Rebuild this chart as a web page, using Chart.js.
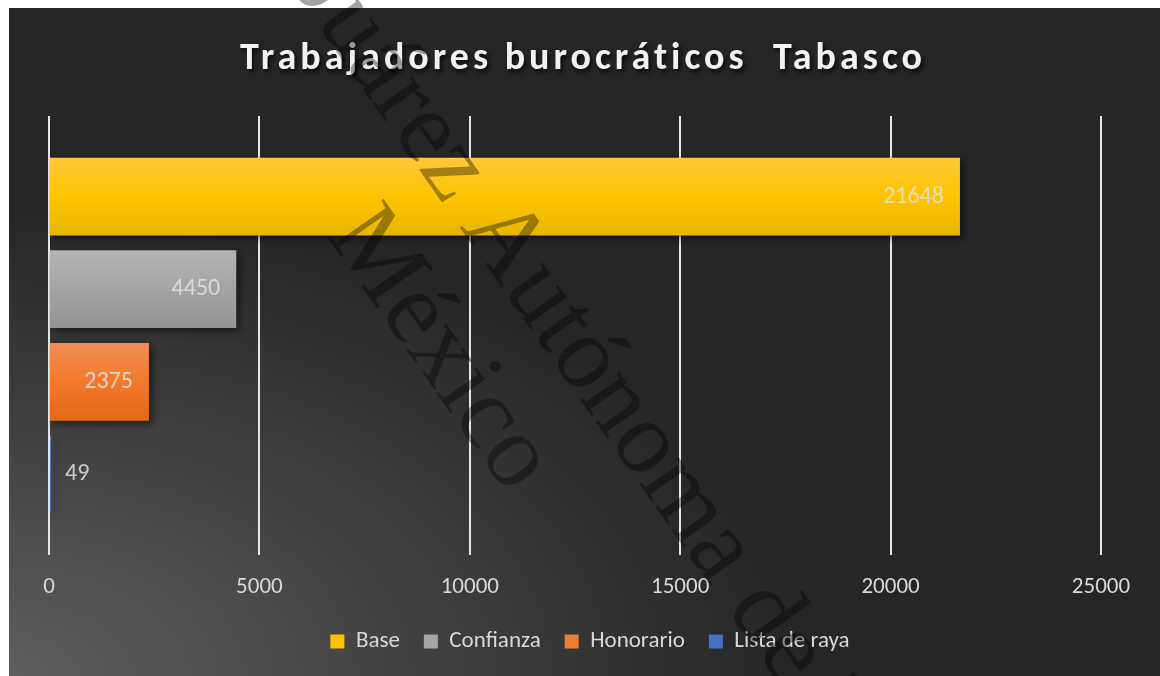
<!DOCTYPE html>
<html>
<head>
<meta charset="utf-8">
<script src="https://cdn.jsdelivr.net/npm/chart.js@4.4.1/dist/chart.umd.min.js"></script>
<style>
  html, body { margin: 0; padding: 0; background: #fff; }
  #wrap { width: 1160px; height: 676px; }
</style>
</head>
<body>
<div id="wrap"><canvas id="myChart" width="1160" height="676"></canvas></div>
<script>
const title = 'Trabajadores burocráticos  Tabasco';
const categories = [''];
const seriesNames = ['Base', 'Confianza', 'Honorario', 'Lista de raya'];
const seriesValues = [21648, 4450, 2375, 49];
const tickLabels = ['0', '5000', '10000', '15000', '20000', '25000'];
const seriesColors = ['#ffc000', '#a5a5a5', '#ed7d31', '#4472c4'];
// top / middle / bottom of each bar's shading
const seriesShades = [
  ['#ffc83a', '#ffc400', '#e6b700'],
  ['#b4b4b4', '#a4a4a4', '#939393'],
  ['#f28e56', '#f27a2a', '#e36818'],
  ['#5b86d0', '#4472c4', '#3a66b5'],
];
const watermark = ['Juárez Autónoma de Tabasco', 'México'];

const font = 'Calibri, Carlito, Lato, sans-serif';
const textColor = '#d9d9d9';

const background = {
  id: 'background',
  beforeDraw(chart) {
    const c = chart.ctx, w = chart.width, h = chart.height;
    c.save();
    c.fillStyle = '#fff';
    c.fillRect(0, 0, w, h);
    c.translate(9, h);
    c.scale(1, 0.6);
    const g = c.createRadialGradient(0, 0, 0, 0, 0, 820);
    g.addColorStop(0, '#5e5e5e');
    g.addColorStop(0.95, '#262626');
    g.addColorStop(1, '#262626');
    c.fillStyle = g;
    c.fillRect(0, -(h - 8) / 0.6, w, (h - 8) / 0.6);
    c.restore();
  },
  afterLayout(chart) {
    // legend sits a little right of the plot centre
    chart.legend.left += 15;
    chart.legend.right += 15;
  }
};

const barLook = {
  id: 'barLook',
  beforeDatasetsDraw(chart) {
    const c = chart.ctx;
    chart.data.datasets.forEach((ds, i) => {
      chart.getDatasetMeta(i).data.forEach(bar => {
        const top = bar.y - bar.height / 2;
        const g = c.createLinearGradient(0, top, 0, top + bar.height);
        g.addColorStop(0, seriesShades[i][0]);
        g.addColorStop(0.5, seriesShades[i][1]);
        g.addColorStop(1, seriesShades[i][2]);
        bar.options.backgroundColor = g;
      });
    });
    c.save();
    c.shadowColor = 'rgba(0,0,0,0.55)';
    c.shadowBlur = 8;
    c.shadowOffsetX = 3;
    c.shadowOffsetY = 3;
  },
  afterDatasetsDraw(chart) {
    const c = chart.ctx;
    c.restore();
    // value labels
    c.save();
    c.font = '24px ' + font;
    c.fillStyle = 'rgba(225,225,225,0.85)';
    c.textBaseline = 'middle';
    chart.data.datasets.forEach((ds, i) => {
      const bar = chart.getDatasetMeta(i).data[0];
      const txt = String(ds.data[0]);
      const w = c.measureText(txt).width;
      if (bar.x - bar.base > w + 30) {
        c.textAlign = 'right';
        c.fillText(txt, bar.x - 16, bar.y);
      } else {
        c.textAlign = 'left';
        c.fillText(txt, bar.x + 14, bar.y);
      }
    });
    c.restore();
  }
};

const overlay = {
  id: 'overlay',
  afterDraw(chart) {
    const c = chart.ctx;
    // title with shadow
    c.save();
    c.font = 'bold 38px ' + font;
    c.letterSpacing = '4px';
    c.textAlign = 'center';
    c.textBaseline = 'alphabetic';
    c.shadowColor = 'rgba(0,0,0,0.75)';
    c.shadowBlur = 4;
    c.shadowOffsetX = 2;
    c.shadowOffsetY = 3;
    c.fillStyle = '#f2f2f2';
    c.fillText(title, 583, 69);
    c.restore();
    // scan watermark
    c.save();
    c.font = '104px "Liberation Serif", serif';
    c.fillStyle = 'rgba(0,0,0,0.36)';
    c.textAlign = 'left';
    c.textBaseline = 'alphabetic';
    c.translate(292, -12);
    c.rotate(55 * Math.PI / 180);
    c.fillText(watermark[0], 0, 0);
    c.fillText(watermark[1], 222, 114);
    c.restore();
  }
};

const ctx = document.getElementById('myChart').getContext('2d');
const myChart = new Chart(ctx, {
  type: 'bar',
  data: {
    labels: categories,
    datasets: seriesNames.map((name, i) => ({
      label: name,
      data: [seriesValues[i]],
      backgroundColor: (c) => seriesColors[c.datasetIndex],
      borderWidth: 0,
      categoryPercentage: 0.844,
      barPercentage: 0.84,
    })),
  },
  options: {
    indexAxis: 'y',
    responsive: false,
    animation: false,
    devicePixelRatio: 1,
    layout: { padding: { top: 116, left: 49, right: 59, bottom: 13 } },
    scales: {
      x: {
        min: 0,
        max: 25000,
        afterFit: (scale) => { scale.height = 51; },
        ticks: {
          stepSize: 5000,
          padding: 18,
          color: textColor,
          font: { family: font, size: 23 },
          callback: (v, i) => tickLabels[i],
        },
        grid: { color: '#e6e6e6', lineWidth: 2, drawTicks: false },
        border: { display: false },
      },
      y: { display: false },
    },
    plugins: {
      title: { display: false },
      tooltip: { enabled: false },
      legend: {
        position: 'bottom',
        labels: {
          boxWidth: 14,
          boxHeight: 14,
          padding: 24,
          color: textColor,
          font: { family: font, size: 23 },
          generateLabels: (chart) => seriesNames.map((name, i) => ({
            text: name,
            fillStyle: seriesColors[i],
            strokeStyle: seriesColors[i],
            lineWidth: 0,
            fontColor: textColor,
            datasetIndex: i,
          })),
        },
      },
    },
  },
  plugins: [background, barLook, overlay],
});
</script>
</body>
</html>
